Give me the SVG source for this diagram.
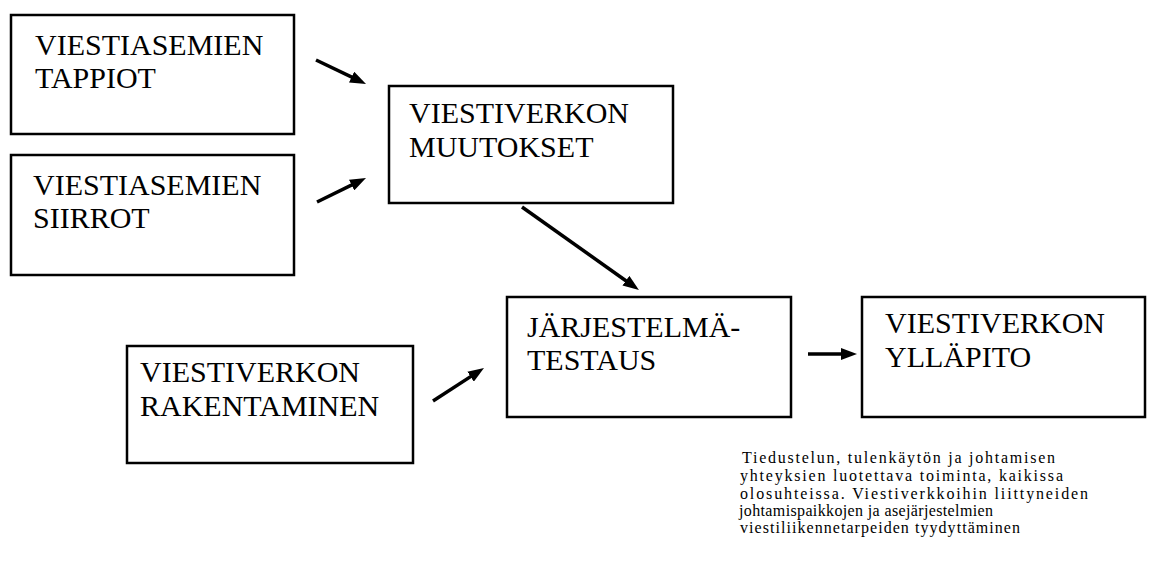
<svg xmlns="http://www.w3.org/2000/svg" width="1152" height="565" viewBox="0 0 1152 565">
<style>
.box{fill:#fff;stroke:#000;stroke-width:2.5}
.t{font-family:'Liberation Serif','Times New Roman',Times,'Noto Serif','DejaVu Serif',FreeSerif,Tinos,serif;font-size:30px;fill:#000}
.n{font-family:'Liberation Serif','Times New Roman',Times,'Noto Serif','DejaVu Serif',FreeSerif,Tinos,serif;font-size:16px;fill:#000}
.c{stroke:#000;stroke-width:3.5;fill:none}
</style>
<defs>
<marker id="ah" viewBox="0 0 16 12" refX="6" refY="6" markerWidth="16" markerHeight="12" markerUnits="userSpaceOnUse" orient="auto">
<path d="M0,0 L16,6 L0,12 Z" fill="#000"/>
</marker>
</defs>
<rect width="1152" height="565" fill="#fff"/>
<g id="n1"><rect class="box" x="11" y="15" width="283" height="119"/>
<text class="t" x="35" y="55">VIESTIASEMIEN</text><text class="t" x="35" y="88">TAPPIOT</text></g>
<g id="n2"><rect class="box" x="11" y="155" width="283" height="120"/>
<text class="t" x="33" y="195">VIESTIASEMIEN</text><text class="t" x="33" y="228">SIIRROT</text></g>
<g id="n3"><rect class="box" x="389" y="86" width="284" height="117"/>
<text class="t" x="409" y="123">VIESTIVERKON</text><text class="t" x="409" y="157">MUUTOKSET</text></g>
<g id="n4"><rect class="box" x="507" y="297" width="284" height="120"/>
<text class="t" x="527" y="337">JÄRJESTELMÄ-</text><text class="t" x="527" y="370">TESTAUS</text></g>
<g id="n5"><rect class="box" x="127" y="346" width="286" height="117"/>
<text class="t" x="140" y="382">VIESTIVERKON</text><text class="t" x="140" y="416">RAKENTAMINEN</text></g>
<g id="n6"><rect class="box" x="862" y="297" width="283" height="120"/>
<text class="t" x="885" y="333">VIESTIVERKON</text><text class="t" x="885" y="367">YLLÄPITO</text></g>
<g id="connectors">
<line class="c" x1="316" y1="60" x2="357" y2="79.7" marker-end="url(#ah)"/>
<line class="c" x1="317" y1="202" x2="357" y2="182.4" marker-end="url(#ah)"/>
<line class="c" x1="522" y1="207" x2="630.8" y2="284.2" marker-end="url(#ah)"/>
<line class="c" x1="433" y1="401" x2="475.6" y2="373.4" marker-end="url(#ah)"/>
<line class="c" x1="808" y1="354" x2="847" y2="354" marker-end="url(#ah)"/>
</g>
<g id="note">
<text class="n" x="742" y="463" textLength="313" lengthAdjust="spacing">Tiedustelun, tulenkäytön ja johtamisen</text>
<text class="n" x="740" y="481" textLength="323" lengthAdjust="spacing">yhteyksien luotettava toiminta, kaikissa</text>
<text class="n" x="740" y="499" textLength="348" lengthAdjust="spacing">olosuhteissa. Viestiverkkoihin liittyneiden</text>
<text class="n" x="739" y="516" textLength="254" lengthAdjust="spacing">johtamispaikkojen ja asejärjestelmien</text>
<text class="n" x="740" y="533" textLength="280" lengthAdjust="spacing">viestiliikennetarpeiden tyydyttäminen</text>
</g>
</svg>
